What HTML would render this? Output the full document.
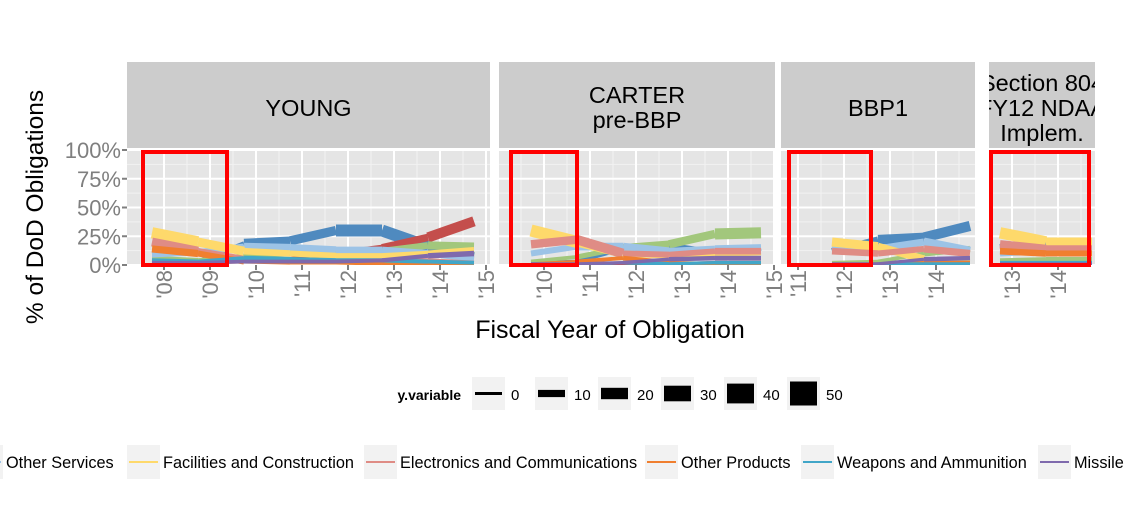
<!DOCTYPE html>
<html><head><meta charset="utf-8"><style>
body{margin:0;background:#fff;}
svg{display:block;font-family:"Liberation Sans",Arial,sans-serif;}
</style></head><body>
<svg id="c" width="1125" height="525" viewBox="0 0 1125 525" xmlns="http://www.w3.org/2000/svg">
<defs>
<clipPath id="cp0"><rect x="127" y="150" width="363" height="115"/></clipPath>
<clipPath id="cp1"><rect x="499" y="150" width="276" height="115"/></clipPath>
<clipPath id="cp2"><rect x="781" y="150" width="194" height="115"/></clipPath>
<clipPath id="cp3"><rect x="989" y="150" width="106" height="115"/></clipPath>
<clipPath id="sp3"><rect x="989" y="62" width="106" height="86"/></clipPath>
</defs>
<g id="panels"></g>
<text x="0" y="0" transform="translate(43,207) rotate(-90)" text-anchor="middle" font-size="24.5" fill="#000">% of DoD Obligations</text>
<text x="610" y="338" text-anchor="middle" font-size="25" fill="#000">Fiscal Year of Obligation</text>
<g>
<text x="461" y="400" text-anchor="end" font-size="14" font-weight="bold">y.variable</text>
<g id="sizeleg"></g>
</g>
<g id="colleg"></g>
</svg>
<script>
const panelNames=["YOUNG","CARTER pre-BBP","BBP1","Section 804 FY12 NDAA Implem."];
const seriesNames=["Aircraft","Land Vehicles","Other R&D","Other Services","Facilities and Construction","Electronics and Communications","Other Products","Weapons and Ammunition","Missile"];
const seriesColors=["#4f8abf","#c44e4c","#a2c77c","#9cc3e6","#fed96b","#df8c85","#f07f2f","#41a6c8","#7f6aad"];
const yTicks=[0,25,50,75,100];
const yTickLabels=["0%","25%","50%","75%","100%"];
const p0Ticks=["'08","'09","'10","'11","'12","'13","'14","'15"];
const p1Ticks=["'10","'11","'12","'13","'14","'15"];
const p2Ticks=["'11","'12","'13","'14"];
const p3Ticks=["'13","'14"];
const p0Vals=[[2,3,19,21,30,30,16,8],[1,2,3,5,10,15,24,38],[6,4,8,10,10,12,17,16],[9,11,16,15,13,13,10,5],[28,20,12,10,8,8,10,13],[20,12,5,4,3,4,4,2],[14,10,3,2,2,1,1,0],[4,3,6,5,4,4,3,2],[2,2,3,3,3,4,8,10]];
const p1Vals=[[2,3,14,16,10,15],[0,0,1,1,2,2],[3,7,15,18,27,28],[10,16,16,12,14,15],[30,20,10,8,9,11],[18,22,10,9,12,12],[1,3,6,2,1,1],[1,0,2,1,2,2],[1,1,2,5,6,6]];
const p2Vals=[[12,22,24,34],[0,0,1,1],[2,3,10,14],[13,14,20,12],[20,16,5,5],[12,10,14,10],[1,1,2,2],[0,1,1,1],[1,1,5,6]];
const p3Vals=[[15,20,20],[0,0,0],[4,5,5],[10,12,14],[28,20,20],[18,14,14],[12,10,10],[2,2,2],[1,1,1]];
const sizeLegend=[0,10,20,30,40,50];

const NS="http://www.w3.org/2000/svg";
function mk(t,a,p){const e=document.createElementNS(NS,t);for(const k in a)e.setAttribute(k,a[k]);if(p)p.appendChild(e);return e;}
const yTop=150,yBot=265;
function yS(v){return yBot-(v/100)*(yBot-yTop);}
function wS(v){return 3+0.3*v;}
const panels=[
 {x0:127,x1:490,firstTick:164,firstPt:152,ticks:p0Ticks,vals:p0Vals,box:[143,227],lines:["YOUNG"],ly:[108]},
 {x0:499,x1:775,firstTick:544,firstPt:531,ticks:p1Ticks,vals:p1Vals,box:[511,577],lines:["CARTER","pre-BBP"],ly:[95,120]},
 {x0:781,x1:975,firstTick:798,firstPt:832,ticks:p2Ticks,vals:p2Vals,box:[789,871],lines:["BBP1"],ly:[108]},
 {x0:989,x1:1095,firstTick:1012,firstPt:1000,ticks:p3Ticks,vals:p3Vals,box:[991,1089],lines:["Section 804","FY12 NDAA","Implem."],ly:[83,108,133]}
];
const step=46;
const root=document.getElementById('panels');
panels.forEach((p,pi)=>{
 const g=mk('g',{},root);
 
 
 const strip=mk('rect',{x:p.x0,y:62,width:p.x1-p.x0,height:86,fill:'#cccccc'},g);
 
 
 const tg=mk('g',pi==3?{'clip-path':'url(#sp3)'}:{},g);
 p.lines.forEach((l,li)=>{
  const t=mk('text',{x:(p.x0+p.x1)/2,y:p.ly[li]+8,'text-anchor':'middle','font-size':'23.5',fill:'#000'},tg);
  t.textContent=l;
  
  
 });
 const bg=mk('rect',{x:p.x0,y:yTop,width:p.x1-p.x0,height:yBot-yTop,fill:'#e5e5e5'},g);
 
 
 for(let i=0;i<yTicks.length-1;i++){const m=(yTicks[i]+yTicks[i+1])/2;mk('line',{x1:p.x0,x2:p.x1,y1:yS(m),y2:yS(m),stroke:'#f2f2f2','stroke-width':1},g);}
 for(let k=-1;k<=p.ticks.length;k++){const x=p.firstTick+step*(k+0.5);if(x>p.x0&&x<p.x1)mk('line',{x1:x,x2:x,y1:yTop,y2:yBot,stroke:'#f2f2f2','stroke-width':1},g);}
 yTicks.forEach(v=>mk('line',{x1:p.x0,x2:p.x1,y1:yS(v),y2:yS(v),stroke:'#fff','stroke-width':2},g));
 p.ticks.forEach((t,k)=>{
  const x=p.firstTick+step*k;
  if(x>=p.x0-2&&x<=p.x1+2)mk('line',{x1:x,x2:x,y1:yTop,y2:yBot,stroke:'#fff','stroke-width':2},g);
  mk('line',{x1:x,x2:x,y1:yBot,y2:yBot+5,stroke:'#7f7f7f','stroke-width':2},g);
  const lt=mk('text',{x:0,y:0,transform:`translate(${x+8},${yBot+5}) rotate(-90)`,'text-anchor':'end','font-size':'22',fill:'#7f7f7f'},g);
  lt.textContent=t;
  
  
 });
 const sg=mk('g',{'clip-path':`url(#cp${pi})`},g);
 p.vals.forEach((vals,si)=>{
  const s=mk('g',{},sg);
  
  
  for(let i=0;i<vals.length-1;i++){
   const seg=mk('line',{x1:p.firstPt+step*i,y1:yS(vals[i]),x2:p.firstPt+step*(i+1),y2:yS(vals[i+1]),stroke:seriesColors[si],'stroke-width':wS(vals[i])},s);
   
   
  }
 });
 const rb=mk('rect',{x:p.box[0],y:yTop+2,width:p.box[1]-p.box[0],height:yBot-yTop-2,fill:'none',stroke:'#ff0000','stroke-width':4},g);
 
 
});
yTicks.forEach((v,i)=>{
 mk('line',{x1:122,x2:127,y1:yS(v),y2:yS(v),stroke:'#7f7f7f','stroke-width':2},root);
 const t=mk('text',{x:121,y:yS(v)+8,'text-anchor':'end','font-size':'22',fill:'#7f7f7f'},root);
 t.textContent=yTickLabels[i];
 
 
});
const sl=document.getElementById('sizeleg');
sizeLegend.forEach((v,i)=>{
 const x=472+63*i;
 const b=mk('rect',{x:x,y:377,width:33,height:33,fill:'#f2f2f2'},sl);
 
 
 const w=3+0.42*v;
 mk('rect',{x:x+3,y:393.5-w/2,width:27,height:w,fill:'#000'},sl);
 const t=mk('text',{x:x+39,y:400,'font-size':'15',fill:'#000'},sl);
 t.textContent=v;
 
 
});
const cl=document.getElementById('colleg');
const colEntries=[[3,-30,"Other Services"],[4,127,"Facilities and Construction"],[5,364,"Electronics and Communications"],[6,645,"Other Products"],[7,801,"Weapons and Ammunition"],[8,1038,"Missile"]];
colEntries.forEach(e=>{
 const x=e[1];
 const g=mk('g',{},cl);
 
 
 mk('rect',{x:x,y:445,width:33,height:34,fill:'#f2f2f2'},g);
 mk('line',{x1:x+2,x2:x+31,y1:462,y2:462,stroke:seriesColors[e[0]],'stroke-width':2},g);
 const t=mk('text',{x:x+36,y:468,'font-size':'16.3',fill:'#000'},g);
 t.textContent=e[2];
});
</script>
</body></html>
